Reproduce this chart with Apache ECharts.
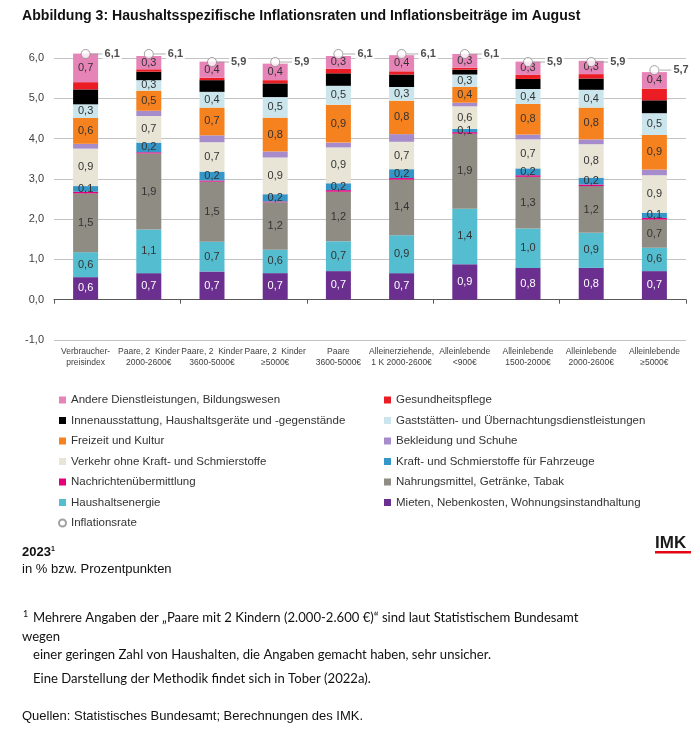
<!DOCTYPE html>
<html>
<head>
<meta charset="utf-8">
<script src="https://cdn.jsdelivr.net/npm/echarts@6/dist/echarts.min.js"></script>
<style>
html,body{margin:0;padding:0;background:#fff;}
#c{width:700px;height:730px;}
</style>
</head>
<body>
<div id="c"></div>
<script>
var categories = [
  'Verbraucher-\npreisindex',
  'Paare, 2  Kinder\n2000-2600€',
  'Paare, 2  Kinder\n3600-5000€',
  'Paare, 2  Kinder\n≥5000€',
  'Paare\n3600-5000€',
  'Alleinerziehende,\n1 K 2000-2600€',
  'Alleinlebende\n<900€',
  'Alleinlebende\n1500-2000€',
  'Alleinlebende\n2000-2600€',
  'Alleinlebende\n≥5000€'
];
var mieten       = [0.56, 0.66, 0.70, 0.66, 0.71, 0.66, 0.88, 0.79, 0.79, 0.71];
var energie      = [0.62, 1.08, 0.74, 0.58, 0.74, 0.94, 1.38, 0.98, 0.87, 0.58];
var nahrung      = [1.46, 1.89, 1.49, 1.18, 1.23, 1.38, 1.86, 1.28, 1.16, 0.70];
var nachrichten  = [0.04, 0.03, 0.03, 0.02, 0.04, 0.04, 0.04, 0.04, 0.04, 0.04];
var kraft        = [0.14, 0.24, 0.22, 0.18, 0.17, 0.22, 0.08, 0.17, 0.17, 0.13];
var verkehr      = [0.93, 0.66, 0.73, 0.91, 0.89, 0.68, 0.56, 0.72, 0.83, 0.93];
var bekleidung   = [0.12, 0.13, 0.17, 0.15, 0.12, 0.19, 0.09, 0.12, 0.12, 0.14];
var freizeit     = [0.64, 0.50, 0.69, 0.84, 0.94, 0.83, 0.39, 0.76, 0.79, 0.86];
var gaststaetten = [0.34, 0.26, 0.39, 0.51, 0.47, 0.34, 0.31, 0.37, 0.44, 0.54];
var innen        = [0.37, 0.21, 0.29, 0.34, 0.31, 0.31, 0.12, 0.25, 0.28, 0.32];
var gesundheit   = [0.18, 0.06, 0.06, 0.08, 0.11, 0.08, 0.05, 0.10, 0.11, 0.29];
var andere       = [0.71, 0.33, 0.40, 0.41, 0.32, 0.40, 0.34, 0.33, 0.33, 0.41];
var inflation    = [6.1, 6.1, 5.9, 5.9, 6.1, 6.1, 6.1, 5.9, 5.9, 5.7];
var yTicks = [-1, 6, 1];

var FONT = '"Liberation Sans", Arial, sans-serif';
function fmt(v){ return v.toFixed(1).replace('.', ','); }

var stackDefs = [
  {name:'Mieten, Nebenkosten, Wohnungsinstandhaltung', data:mieten, color:'#6b2f90', label:true, lc:'#ffffff'},
  {name:'Haushaltsenergie', data:energie, color:'#54bdd0', label:true},
  {name:'Nahrungsmittel, Getränke, Tabak', data:nahrung, color:'#8e8c83', label:true},
  {name:'Nachrichtenübermittlung', data:nachrichten, color:'#e4007c', label:false},
  {name:'Kraft- und Schmierstoffe für Fahrzeuge', data:kraft, color:'#3597c8', label:true},
  {name:'Verkehr ohne Kraft- und Schmierstoffe', data:verkehr, color:'#e9e5d6', label:true},
  {name:'Bekleidung und Schuhe', data:bekleidung, color:'#a68ccb', label:false},
  {name:'Freizeit und Kultur', data:freizeit, color:'#f5821f', label:true},
  {name:'Gaststätten- und Übernachtungsdienstleistungen', data:gaststaetten, color:'#cae6ec', label:true},
  {name:'Innenausstattung, Haushaltsgeräte und -gegenstände', data:innen, color:'#000000', label:false},
  {name:'Gesundheitspflege', data:gesundheit, color:'#ec1c24', label:false},
  {name:'Andere Dienstleistungen, Bildungswesen', data:andere, color:'#e784b7', label:true}
];

var series = stackDefs.map(function(d){
  return {
    name: d.name, type:'bar', stack:'s', data:d.data, barWidth:25, clip:false,
    itemStyle:{color:d.color},
    label:{show:d.label, position:'inside', formatter:function(p){return fmt(p.value);},
      fontFamily:FONT, fontSize:11, color:d.lc || '#333333'},
    emphasis:{disabled:true}
  };
});
series.push({
  name:'Inflationsrate', type:'scatter', data:inflation, symbol:'circle', symbolSize:9, clip:false, z:10,
  itemStyle:{color:'#ffffff', borderColor:'#8a8a8a', borderWidth:1},
  label:{show:true, position:'right', distance:0,
    formatter:function(p){return '{l| }{v|' + fmt(p.value) + '}';},
    rich:{
      l:{width:12, height:1, backgroundColor:'#9a9a9a', lineHeight:1},
      v:{fontFamily:FONT, fontSize:11, fontWeight:'bold', color:'#222', backgroundColor:'#fff', padding:[1,2,1,2]}
    }
  },
  emphasis:{disabled:true}
});

var col1 = ['Andere Dienstleistungen, Bildungswesen','Innenausstattung, Haushaltsgeräte und -gegenstände','Freizeit und Kultur','Verkehr ohne Kraft- und Schmierstoffe','Nachrichtenübermittlung','Haushaltsenergie',{name:'Inflationsrate', icon:'circle'}];
var col2 = ['Gesundheitspflege','Gaststätten- und Übernachtungsdienstleistungen','Bekleidung und Schuhe','Kraft- und Schmierstoffe für Fahrzeuge','Nahrungsmittel, Getränke, Tabak','Mieten, Nebenkosten, Wohnungsinstandhaltung'];
function mkLegend(data, left){
  return {data:data, orient:'vertical', left:left, top:393, padding:0, itemWidth:7, itemHeight:7, itemGap:6.5,
    icon:'rect', selectedMode:false,
    textStyle:{fontFamily:FONT, fontSize:11.5, color:'#333', lineHeight:14}};
}

var chart = echarts.init(document.getElementById('c'), null, {renderer:'canvas'});
chart.setOption({
  backgroundColor:'#ffffff',
  animation:false,
  grid:{left:54, right:14, top:58, bottom:390, containLabel:false},
  xAxis:[
    {type:'category', data:categories, axisLine:{onZero:true, lineStyle:{color:'#595959', width:1}},
     axisTick:{show:true, length:4, lineStyle:{color:'#595959'}}, axisLabel:{show:false}},
    {type:'category', data:categories, position:'bottom', axisLine:{show:false, onZero:false},
     axisTick:{show:false},
     axisLabel:{show:true, interval:0, margin:6, fontFamily:FONT, fontSize:8.5, lineHeight:11, color:'#404040'}}
  ],
  yAxis:{type:'value', min:yTicks[0], max:yTicks[1], interval:yTicks[2],
    axisLine:{show:false}, axisTick:{show:false},
    splitLine:{lineStyle:{color:'#c3c3c3', width:1}},
    axisLabel:{formatter:function(v){return v.toFixed(1).replace('.', ',');}, fontFamily:FONT, fontSize:11, color:'#404040', margin:10}},
  legend:[mkLegend(col1, 58), mkLegend(col2, 384)],
  series:series,
  graphic:[
    {type:'text', left:22, top:9, style:{text:'Abbildung 3: Haushaltsspezifische Inflationsraten und Inflationsbeiträge im August', font:'bold 14.1px "Liberation Sans", Arial, sans-serif', fill:'#111'}},
    {type:'text', left:22, top:546, style:{text:'{b|2023}{s|1}', rich:{b:{font:'bold 13px "Liberation Sans", Arial', fill:'#111'}, s:{font:'bold 7px "Liberation Sans", Arial', fill:'#111', verticalAlign:'top', padding:[0,0,6,0]}}}},
    {type:'text', left:22, top:563, style:{text:'in % bzw. Prozentpunkten', font:'13px "Liberation Sans", Arial', fill:'#111'}},
    {type:'text', left:23, top:610, style:{text:'1', font:'9px Lato, "Open Sans", sans-serif', fill:'#111'}},
    {type:'text', left:33, top:611, style:{text:'Mehrere Angaben der „Paare mit 2 Kindern (2.000-2.600 €)“ sind laut Statistischem Bundesamt', font:'13.1px Lato, "Open Sans", sans-serif', fill:'#111'}},
    {type:'text', left:22, top:630, style:{text:'wegen', font:'13.1px Lato, "Open Sans", sans-serif', fill:'#111'}},
    {type:'text', left:33, top:648, style:{text:'einer geringen Zahl von Haushalten, die Angaben gemacht haben, sehr unsicher.', font:'13.1px Lato, "Open Sans", sans-serif', fill:'#111'}},
    {type:'text', left:33, top:672, style:{text:'Eine Darstellung der Methodik findet sich in Tober (2022a).', font:'13.1px Lato, "Open Sans", sans-serif', fill:'#111'}},
    {type:'text', left:22, top:710, style:{text:'Quellen: Statistisches Bundesamt; Berechnungen des IMK.', font:'13px "Liberation Sans", Arial', fill:'#111'}},
    {type:'text', left:655, top:535, style:{text:'IMK', font:'bold 17px "Liberation Sans", Arial', fill:'#1a1a1a'}},
    {type:'rect', left:655, top:551, shape:{width:36, height:2.5}, style:{fill:'#e30613'}}
  ]
});
</script>
</body>
</html>
